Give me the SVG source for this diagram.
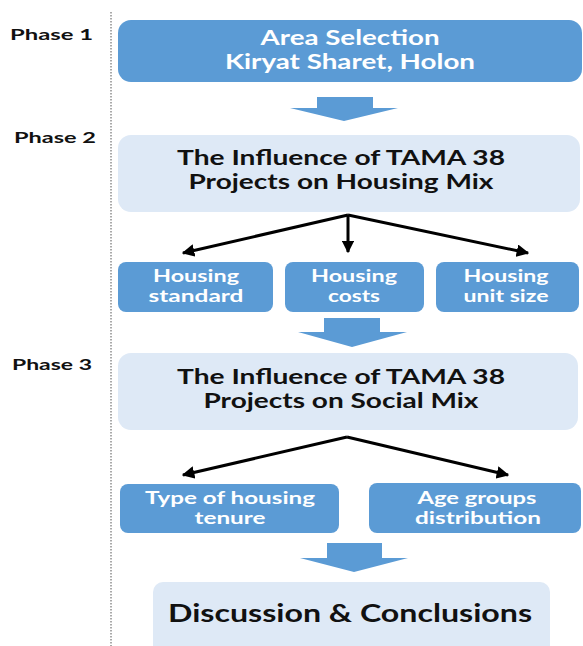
<svg xmlns="http://www.w3.org/2000/svg" width="583" height="646" viewBox="0 0 583 646">
<defs>
<marker id="ah" viewBox="0 0 10 10" refX="9" refY="5" markerWidth="4.2" markerHeight="4.2" orient="auto" markerUnits="strokeWidth">
<path d="M0,0 L10,5 L0,10 Z" fill="#000"/>
</marker>
<style>
.dark{fill:#5b9bd5}
.light{fill:#dee9f6}
.t{font-family:Lato,"Open Sans","Liberation Sans",sans-serif;font-weight:bold;text-anchor:middle}
.w{fill:#fff}
.b{fill:#111}
.ph{font-family:Lato,"Open Sans","Liberation Sans",sans-serif;font-weight:bold;font-size:16px;fill:#111}
.conn{stroke:#000;stroke-width:3;fill:none;marker-end:url(#ah)}
.blk{fill:#5b9bd5}
</style>
</defs>
<rect width="583" height="646" fill="#fff"/>
<line x1="111" y1="12" x2="111" y2="646" stroke="#555" stroke-width="1" stroke-dasharray="1.5,1.5"/>
<g id="phases">
<text class="ph" x="10" y="40" textLength="83" lengthAdjust="spacingAndGlyphs">Phase 1</text>
<text class="ph" x="14" y="143" textLength="82" lengthAdjust="spacingAndGlyphs">Phase 2</text>
<text class="ph" x="12" y="370" textLength="80" lengthAdjust="spacingAndGlyphs">Phase 3</text>
</g>
<g id="area">
<rect class="dark" x="118" y="20" width="464" height="62" rx="13"/>
<text class="t w" x="350" y="45" font-size="20" textLength="179" lengthAdjust="spacingAndGlyphs">Area Selection</text>
<text class="t w" x="350" y="69" font-size="20" textLength="250" lengthAdjust="spacingAndGlyphs">Kiryat Sharet, Holon</text>
</g>
<g id="housingmix">
<rect class="light" x="118" y="135" width="462" height="77" rx="13"/>
<text class="t b" x="341" y="165" font-size="20" textLength="328" lengthAdjust="spacingAndGlyphs">The Influence of TAMA 38</text>
<text class="t b" x="341" y="189" font-size="20" textLength="305" lengthAdjust="spacingAndGlyphs">Projects on Housing Mix</text>
</g>
<g id="standard">
<rect class="dark" x="118" y="262" width="155" height="50" rx="8"/>
<text class="t w" x="196" y="282" font-size="16.5" textLength="86" lengthAdjust="spacingAndGlyphs">Housing</text>
<text class="t w" x="196" y="302" font-size="16.5" textLength="95" lengthAdjust="spacingAndGlyphs">standard</text>
</g>
<g id="costs">
<rect class="dark" x="285" y="262" width="139" height="50" rx="8"/>
<text class="t w" x="354" y="282" font-size="16.5" textLength="86" lengthAdjust="spacingAndGlyphs">Housing</text>
<text class="t w" x="354" y="302" font-size="16.5" textLength="52" lengthAdjust="spacingAndGlyphs">costs</text>
</g>
<g id="unitsize">
<rect class="dark" x="436" y="262" width="143" height="50" rx="8"/>
<text class="t w" x="506" y="282" font-size="16.5" textLength="85" lengthAdjust="spacingAndGlyphs">Housing</text>
<text class="t w" x="506" y="302" font-size="16.5" textLength="85" lengthAdjust="spacingAndGlyphs">unit size</text>
</g>
<g id="socialmix">
<rect class="light" x="118" y="353" width="460" height="77" rx="13"/>
<text class="t b" x="341" y="384" font-size="20" textLength="328" lengthAdjust="spacingAndGlyphs">The Influence of TAMA 38</text>
<text class="t b" x="341" y="408" font-size="20" textLength="275" lengthAdjust="spacingAndGlyphs">Projects on Social Mix</text>
</g>
<g id="tenure">
<rect class="dark" x="120" y="484" width="219" height="49" rx="8"/>
<text class="t w" x="230" y="504" font-size="16.5" textLength="170" lengthAdjust="spacingAndGlyphs">Type of housing</text>
<text class="t w" x="230" y="524" font-size="16.5" textLength="71" lengthAdjust="spacingAndGlyphs">tenure</text>
</g>
<g id="age">
<rect class="dark" x="369" y="483" width="212" height="50" rx="8"/>
<text class="t w" x="477" y="504" font-size="16.5" textLength="119" lengthAdjust="spacingAndGlyphs">Age groups</text>
<text class="t w" x="478" y="524" font-size="16.5" textLength="126" lengthAdjust="spacingAndGlyphs">distribution</text>
</g>
<g id="discussion">
<rect class="light" x="153" y="582" width="397" height="80" rx="10"/>
<text class="t b" x="350" y="622" font-size="24" textLength="364" lengthAdjust="spacingAndGlyphs">Discussion &amp; Conclusions</text>
</g>
<g id="connectors">
<path class="blk" d="M317,97 H373 V108 H398 L344,121 L290,108 H317 Z"/>
<path class="blk" d="M324,318 H380 V332 H407 L352,347 L298,332 H324 Z"/>
<path class="blk" d="M327,543 H382 V558 H408 L354,572 L300,558 H327 Z"/>
<line class="conn" x1="348" y1="215" x2="183" y2="253"/>
<line class="conn" x1="348" y1="215" x2="348" y2="252"/>
<line class="conn" x1="348" y1="215" x2="528" y2="253"/>
<line class="conn" x1="347" y1="437" x2="183" y2="475"/>
<line class="conn" x1="347" y1="437" x2="508" y2="475"/>
</g>
</svg>
